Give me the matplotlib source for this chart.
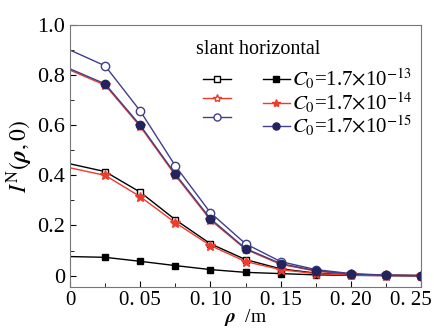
import numpy as np
import matplotlib
matplotlib.use("Agg")
import matplotlib.pyplot as plt
import matplotlib.transforms as mtransforms

plt.rcParams["font.family"] = "serif"
plt.rcParams["font.serif"] = ["Liberation Serif", "DejaVu Serif"]
plt.rcParams["mathtext.fontset"] = "stix"

# data
rho = [0.0, 0.025, 0.05, 0.075, 0.1, 0.125, 0.15, 0.175, 0.2, 0.225, 0.25]
slant_13 = [0.446, 0.415, 0.333, 0.223, 0.127, 0.064, 0.027, 0.010, 0.003, 0.001, 0.0]
slant_14 = [0.820, 0.760, 0.595, 0.400, 0.222, 0.105, 0.045, 0.018, 0.005, 0.001, 0.0]
slant_15 = [0.900, 0.837, 0.657, 0.438, 0.251, 0.127, 0.056, 0.024, 0.008, 0.002, 0.0]
horiz_13 = [0.076, 0.073, 0.057, 0.040, 0.024, 0.013, 0.008, 0.003, 0.001, 0.0, 0.0]
horiz_14 = [0.430, 0.400, 0.315, 0.211, 0.120, 0.056, 0.024, 0.008, 0.002, 0.0, 0.0]
horiz_15 = [0.825, 0.765, 0.600, 0.405, 0.227, 0.108, 0.048, 0.020, 0.006, 0.001, 0.0]
labels = [r"$C_0$=1.7$\times$10$^{-13}$", r"$C_0$=1.7$\times$10$^{-14}$",
          r"$C_0$=1.7$\times$10$^{-15}$"]
xticks = [0, 0.05, 0.10, 0.15, 0.20, 0.25]
xticklabels = ["0", "0. 05", "0. 10", "0. 15", "0. 20", "0. 25"]
yticks = [0, 0.2, 0.4, 0.6, 0.8, 1.0]

black = "black"
red = "#f03a2a"
navy = "#3f3f8a"
dnavy = "#23235e"

fig = plt.figure(figsize=(4.35, 3.29), dpi=100)
ax = fig.add_axes([0.161, 0.128, 0.807, 0.796])

me = slice(1, None)
h = []
h += ax.plot(rho, slant_13, "-s", color=black, mfc="white", ms=5, lw=1, markevery=me, label=" ")
h += ax.plot(rho, slant_14, "-*", color=red, mfc="white", ms=7, lw=1, markevery=me, label=" ")
h += ax.plot(rho, slant_15, "-o", color=navy, mfc="white", ms=6, lw=1, markevery=me, label=" ")
h += ax.plot(rho, horiz_13, "-s", color=black, mfc=black, ms=5, lw=1, markevery=me, label=labels[0])
h += ax.plot(rho, horiz_14, "-*", color=red, mfc=red, ms=7, lw=1, markevery=me, label=labels[1])
h += ax.plot(rho, horiz_15, "-o", color=navy, mfc=dnavy, mec=dnavy, ms=6, lw=1, markevery=me,
             label=labels[2])

ax.set_xlim(0, 0.25)
ax.set_ylim(-0.045, 1.0)
ax.set_xticks(xticks)
ax.set_xticklabels(xticklabels)
ax.set_xticks(np.arange(0.025, 0.25, 0.05), minor=True)
ax.set_yticks(yticks)
ax.set_yticklabels(["0", "0.2", "0.4", "0.6", "0.8", "1.0"])
ax.set_yticks(np.arange(0.1, 1.0, 0.2), minor=True)
ax.tick_params(which="both", direction="in", labelsize=16)
ax.tick_params(axis="x", labelsize=15, pad=3)
ax.tick_params(which="major", length=4)
ax.tick_params(which="minor", length=3)
for s in ax.spines.values():
    s.set_color("#777777")
    s.set_linewidth(0.8)

# last x label sits left of its tick so it fits the figure
last = ax.get_xticklabels()[-1]
last.set_transform(last.get_transform() +
                   mtransforms.ScaledTranslation(-10 / 100, 0, fig.dpi_scale_trans))

ax.set_ylabel(r"$I^{\mathrm{N}}(\boldsymbol{\rho},0)$", fontsize=17, labelpad=2)
ax.set_xlabel(r"$\boldsymbol{\rho}$  /m", fontsize=14, labelpad=-2)

ax.text(0.36, 0.905, "slant horizontal", transform=ax.transAxes, fontsize=14.5,
        va="center", ha="left")
leg = ax.legend(handles=h, ncol=2, frameon=False, loc="upper right",
                bbox_to_anchor=(1.0, 0.87), fontsize=15, handlelength=1.3,
                handletextpad=0.1, columnspacing=1.2, labelspacing=-0.05,
                borderaxespad=0, markerscale=0.85)

fig.savefig("out.png", dpi=100)
